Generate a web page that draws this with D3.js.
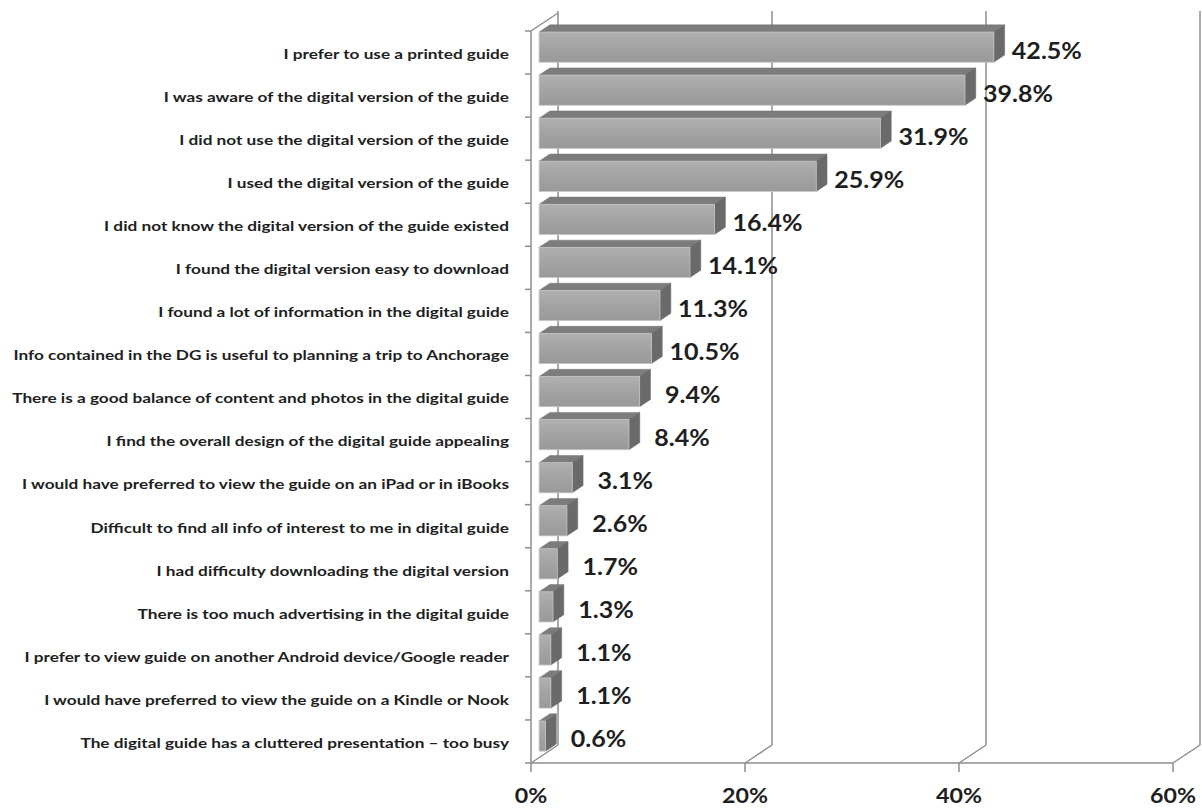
<!DOCTYPE html>
<html>
<head>
<meta charset="utf-8">
<script src="https://cdn.jsdelivr.net/npm/d3@7"></script>
<style>
  html, body { margin: 0; padding: 0; background: #fff; }
  svg { display: block; }
</style>
</head>
<body>
<svg id="chart" width="1202" height="810"></svg>
<script>
// Survey statements (top to bottom) and share of respondents
const categories = [
  "I prefer to use a printed guide",
  "I was aware of the digital version of the guide",
  "I did not use the digital version of the guide",
  "I used the digital version of the guide",
  "I did not know the digital version of the guide existed",
  "I found the digital version easy to download",
  "I found a lot of information in the digital guide",
  "Info contained in the DG is useful to planning a trip to Anchorage",
  "There is a good balance of content and photos in the digital guide",
  "I find the overall design of the digital guide appealing",
  "I would have preferred to view the guide on an iPad or in iBooks",
  "Difficult to find all info of interest to me in digital guide",
  "I had difficulty downloading the digital version",
  "There is too much advertising in the digital guide",
  "I prefer to view guide on another Android device/Google reader",
  "I would have preferred to view the guide on a Kindle or Nook",
  "The digital guide has a cluttered presentation \u2013 too busy"
];
const values = [42.5, 39.8, 31.9, 25.9, 16.4, 14.1, 11.3, 10.5, 9.4, 8.4, 3.1, 2.6, 1.7, 1.3, 1.1, 1.1, 0.6];
const tickValues = [0, 20, 40, 60];
const tickLabels = ["0%", "20%", "40%", "60%"];

const svg = d3.select("#chart");

// Front plane of the plot box
const x = d3.scaleLinear().domain([0, 60]).range([531, 1173]);
const y = d3.scaleBand().domain(categories).range([31, 763])
  .paddingInner(0.3).paddingOuter(0.15);
const floorY = 763, topY = 31;

// Oblique depth of the 3-D box and the slab each bar occupies within it
const DX = 27, DY = -18;
const t1 = 0.3, t2 = 0.7;
const bx = (t2 - t1) * DX, by = (t2 - t1) * DY;

const gridColor = "#8e8e8e";
const grid = svg.append("g").attr("fill", "none").attr("stroke", gridColor).attr("stroke-width", 1.5);

// Back wall gridlines
grid.selectAll("line.back").data(tickValues).join("line")
  .attr("x1", d => x(d) + DX).attr("x2", d => x(d) + DX)
  .attr("y1", topY + DY - 2).attr("y2", floorY + DY);

// Floor: diagonals from the front axis to the back wall
grid.selectAll("line.floor").data(tickValues).join("line")
  .attr("x1", d => x(d)).attr("y1", floorY)
  .attr("x2", d => x(d) + DX).attr("y2", floorY + DY);

// Front baseline and tick marks
grid.append("line").attr("x1", x(0)).attr("x2", x(60)).attr("y1", floorY).attr("y2", floorY);
grid.selectAll("line.tick").data(tickValues).join("line")
  .attr("x1", d => x(d)).attr("x2", d => x(d))
  .attr("y1", floorY).attr("y2", floorY + 9);

// Side wall: front vertical edge, top diagonal and category tick marks
grid.append("line").attr("x1", x(0)).attr("x2", x(0)).attr("y1", topY).attr("y2", floorY);
grid.append("line").attr("x1", x(0)).attr("y1", topY).attr("x2", x(0) + DX).attr("y2", topY + DY);
const boundaries = categories.map(c => y(c) - y.step() * y.paddingInner() / 2).concat([floorY]);
grid.selectAll("line.ctick").data(boundaries).join("line")
  .attr("x1", x(0) - 6).attr("x2", x(0))
  .attr("y1", d => d).attr("y2", d => d);

// Bars
const defs = svg.append("defs");
const grad = defs.append("linearGradient").attr("id", "front").attr("x1", 0).attr("x2", 0).attr("y1", 0).attr("y2", 1);
grad.append("stop").attr("offset", "0%").attr("stop-color", "#b0b0b0");
grad.append("stop").attr("offset", "50%").attr("stop-color", "#a3a3a3");
grad.append("stop").attr("offset", "100%").attr("stop-color", "#999999");

const data = categories.map((c, i) => ({ c, v: values[i] }));
const bars = svg.append("g").selectAll("g").data(data).join("g");
const bw = y.bandwidth();
const fx0 = x(0) + t1 * DX;
const fy = d => y(d.c) + t1 * DY;
const fx1 = d => x(d.v) + t1 * DX;

// top face
bars.append("polygon")
  .attr("points", d => {
    const a = fx0, b = fx1(d), t = fy(d);
    return [[a, t], [b, t], [b + bx, t + by], [a + bx, t + by]].map(p => p.join(",")).join(" ");
  })
  .attr("fill", "#7c7c7c").attr("stroke", "#777").attr("stroke-width", 0.5);
// side face
bars.append("polygon")
  .attr("points", d => {
    const b = fx1(d), t = fy(d);
    return [[b, t], [b + bx, t + by], [b + bx, t + by + bw], [b, t + bw]].map(p => p.join(",")).join(" ");
  })
  .attr("fill", "#6a6a6a").attr("stroke", "#666").attr("stroke-width", 0.5);
// front face
bars.append("rect")
  .attr("x", fx0).attr("y", fy)
  .attr("width", d => fx1(d) - fx0).attr("height", bw)
  .attr("fill", "url(#front)").attr("stroke", "#c4c4c4").attr("stroke-width", 0.8);

// Category labels
const catFont = "Lato, 'Liberation Sans', sans-serif";
const catG = svg.append("g")
  .attr("font-family", catFont).attr("font-weight", 700).attr("font-size", 14).attr("fill", "#1e1e1e");
const catText = catG.selectAll("text").data(categories).join("text")
  .attr("text-anchor", "end").attr("dominant-baseline", "central")
  .text(d => d);
const refNode = catText.filter(d => d.startsWith("There is a good")).node();
const catK = 497 / refNode.getComputedTextLength();
catText.attr("transform", d => `translate(509,${y(d) + bw / 2 + 1}) scale(${catK},1)`);

// Value labels
const valG = svg.append("g")
  .attr("font-family", catFont).attr("font-weight", 700).attr("font-size", 22).attr("fill", "#1e1e1e");
const valText = valG.selectAll("text").data(data).join("text")
  .attr("text-anchor", "middle").attr("dominant-baseline", "central")
  .text(d => d.v.toFixed(1) + "%");
const valK = 70 / valText.node().getComputedTextLength();
valText.attr("transform", d => `translate(${fx1(d) + 53},${fy(d) + bw / 2 + 3}) scale(${valK},1)`);

// Axis tick labels
const axG = svg.append("g")
  .attr("font-family", catFont).attr("font-weight", 700).attr("font-size", 20).attr("fill", "#1e1e1e");
const axText = axG.selectAll("text").data(tickValues).join("text")
  .attr("text-anchor", "middle").attr("dominant-baseline", "central")
  .text((d, i) => tickLabels[i]);
const axK = 46 / axText.filter((d, i) => i === 1).node().getComputedTextLength();
axText.attr("transform", d => `translate(${x(d)},${floorY + 33}) scale(${axK},1)`);
</script>
</body>
</html>
